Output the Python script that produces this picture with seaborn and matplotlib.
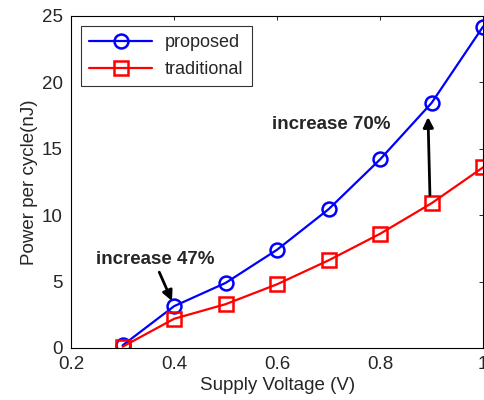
# Power per cycle vs supply voltage, proposed vs traditional design
import pandas as pd
import matplotlib
matplotlib.use("Agg")
import matplotlib.pyplot as plt
import seaborn as sns

voltage = [0.3, 0.4, 0.5, 0.6, 0.7, 0.8, 0.9, 1.0]
proposed = [0.2, 3.15, 4.9, 7.4, 10.45, 14.2, 18.45, 24.2]
traditional = [0.1, 2.2, 3.3, 4.8, 6.6, 8.6, 10.9, 13.6]
x_ticks = [0.2, 0.4, 0.6, 0.8, 1.0]
x_tick_labels = ["0.2", "0.4", "0.6", "0.8", "1"]
y_ticks = [0, 5, 10, 15, 20, 25]

df = pd.DataFrame({"voltage": voltage, "proposed": proposed, "traditional": traditional})

sns.set_style("white")
plt.rcParams["font.family"] = ["Liberation Sans", "DejaVu Sans"]

fig = plt.figure(figsize=(4.84, 4.0), dpi=100)
ax = fig.add_axes([0.147, 0.13, 0.851, 0.83])

sns.lineplot(data=df, x="voltage", y="proposed", ax=ax, color="blue", lw=1.6,
             marker="o", ms=10, mfc="none", mec="blue", mew=1.8, label="proposed")
sns.lineplot(data=df, x="voltage", y="traditional", ax=ax, color="red", lw=1.6,
             marker="s", ms=10, mfc="none", mec="red", mew=1.8, label="traditional")

ax.set_xlim(0.2, 1.0)
ax.set_ylim(0, 25)
ax.set_xticks(x_ticks)
ax.set_xticklabels(x_tick_labels)
ax.set_yticks(y_ticks)
ax.tick_params(direction="in", length=3, width=0.7, top=True, right=True,
               labelsize=13.5, pad=6)
for s in ax.spines.values():
    s.set_visible(True)
    s.set_color("black")
    s.set_linewidth(0.8)

ax.set_xlabel("Supply Voltage (V)", fontsize=13.5, labelpad=3)
ax.set_ylabel("Power per cycle(nJ)", fontsize=13.5, labelpad=3)

leg = ax.legend(loc="upper left", fontsize=13, handlelength=3.5, frameon=True,
                fancybox=False, borderaxespad=0.55, borderpad=0.45, labelspacing=0.55,
                handletextpad=0.7)
leg.get_frame().set_edgecolor("black")
leg.get_frame().set_linewidth(0.8)

# annotations
ax.text(0.59, 16.8, "increase 70%", fontsize=13.5, fontweight="bold", va="center")
ax.annotate("", xy=(0.893, 17.6), xytext=(0.897, 11.3),
            arrowprops=dict(arrowstyle="-|>", color="black", lw=2, mutation_scale=15))
ax.text(0.249, 6.7, "increase 47%", fontsize=13.5, fontweight="bold", va="center")
ax.annotate("", xy=(0.398, 3.35), xytext=(0.369, 5.9),
            arrowprops=dict(arrowstyle="-|>", color="black", lw=2, mutation_scale=15))

fig.savefig("out.png", dpi=100)
